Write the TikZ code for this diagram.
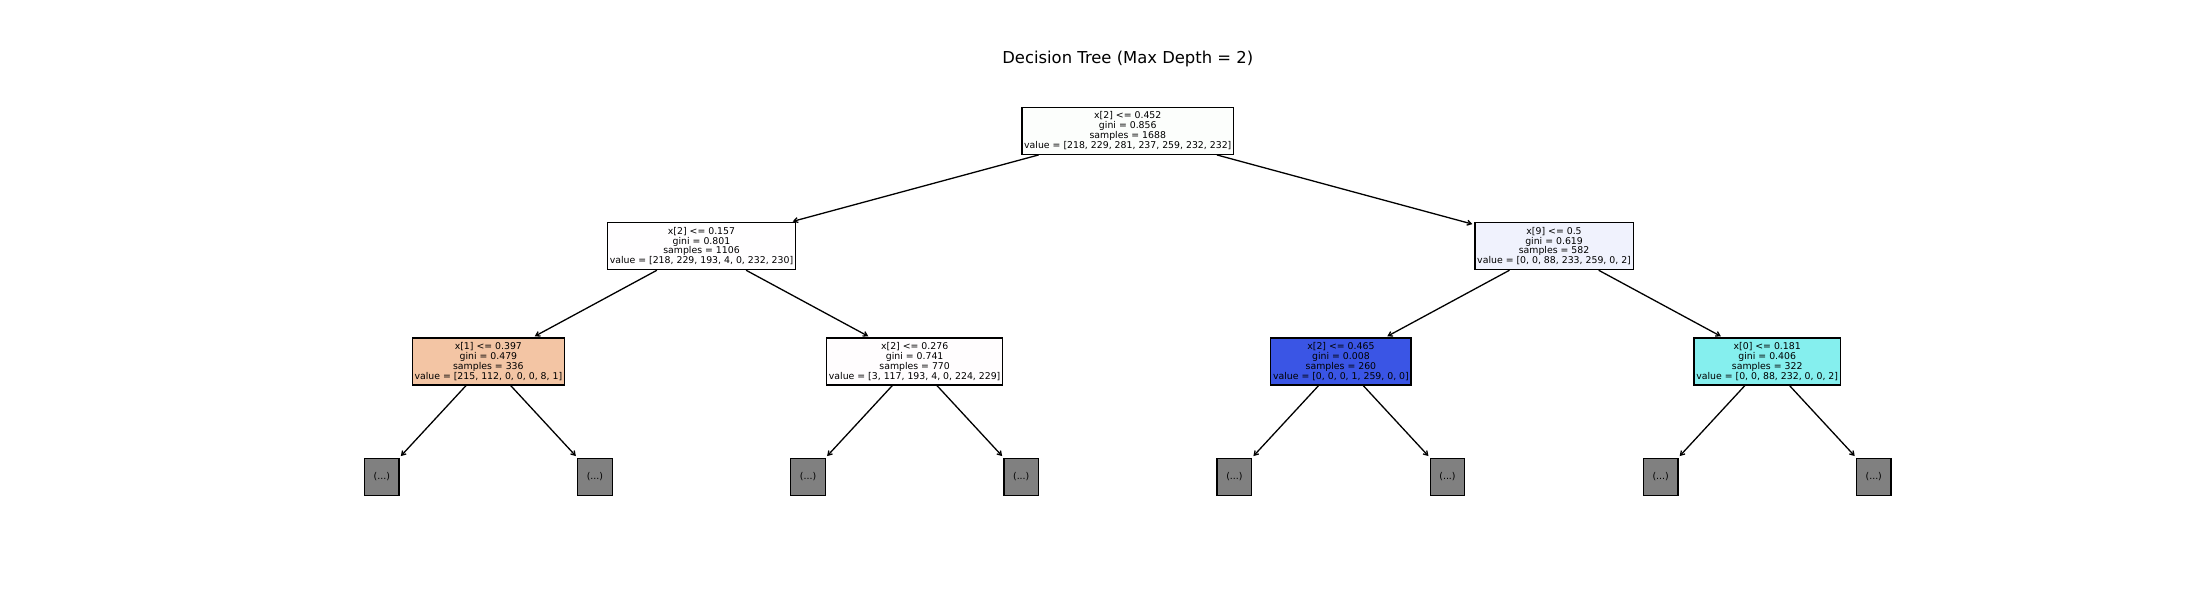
\documentclass[tikz,border=0pt]{standalone}
\usepackage{fontspec}
\setmainfont{DejaVu Sans}
\usetikzlibrary{arrows.meta}
\definecolor{rootfill}{RGB}{252,254,252}
\definecolor{lfill}{RGB}{255,254,255}
\definecolor{rfill}{RGB}{240,242,253}
\definecolor{llfill}{RGB}{243,197,164}
\definecolor{lrfill}{RGB}{255,253,254}
\definecolor{rlfill}{RGB}{58,85,229}
\definecolor{rrfill}{RGB}{133,239,238}
\definecolor{leafgray}{RGB}{128,128,128}
\begin{document}
\begin{tikzpicture}[x=213.14pt,y=115.3pt,
every node/.style={%
line width=1.3pt,
draw,
anchor=center,
align=center,
inner xsep=2.3pt,
minimum height=47pt,
font=\fontsize{9.35}{9.87}\selectfont,
},
ttl/.style={draw=none,minimum height=0pt,font=\fontsize{16.4}{19}\selectfont},
lf/.style={fill=leafgray,minimum width=34.5pt,minimum height=37pt,inner sep=0pt},
arw/.style={-{Straight Barb[length=4pt,width=5pt]},line width=1.3pt,shorten >=2pt}
]
\useasboundingbox (-1.7913,-1.0694) rectangle (8.5306,4.1344);
\node[ttl]at(3.5,3.624)(title){Decision Tree (Max Depth = 2)};
\node[fill=rootfill]at(3.5,3)(root){x[2] <= 0.452\\gini = 0.856\\samples = 1688\\value = [218, 229, 281, 237, 259, 232, 232]};
\node[fill=lfill]at(1.5,2)(l){x[2] <= 0.157\\gini = 0.801\\samples = 1106\\value = [218, 229, 193, 4, 0, 232, 230]};
\node[fill=rfill]at(5.5,2)(r){x[9] <= 0.5\\gini = 0.619\\samples = 582\\value = [0, 0, 88, 233, 259, 0, 2]};
\node[fill=llfill]at(0.5,1)(ll){x[1] <= 0.397\\gini = 0.479\\samples = 336\\value = [215, 112, 0, 0, 0, 8, 1]};
\node[fill=lrfill]at(2.5,1)(lr){x[2] <= 0.276\\gini = 0.741\\samples = 770\\value = [3, 117, 193, 4, 0, 224, 229]};
\node[fill=rlfill]at(4.5,1)(rl){x[2] <= 0.465\\gini = 0.008\\samples = 260\\value = [0, 0, 0, 1, 259, 0, 0]};
\node[fill=rrfill]at(6.5,1)(rr){x[0] <= 0.181\\gini = 0.406\\samples = 322\\value = [0, 0, 88, 232, 0, 0, 2]};
\node[lf]at(0,0)(t1){(...)};
\node[lf]at(1,0)(t2){(...)};
\node[lf]at(2,0)(t3){(...)};
\node[lf]at(3,0)(t4){(...)};
\node[lf]at(4,0)(t5){(...)};
\node[lf]at(5,0)(t6){(...)};
\node[lf]at(6,0)(t7){(...)};
\node[lf]at(7,0)(t8){(...)};
\draw[arw](root)--(l);
\draw[arw](root)--(r);
\draw[arw](l)--(ll);
\draw[arw](l)--(lr);
\draw[arw](r)--(rl);
\draw[arw](r)--(rr);
\draw[arw](ll)--(t1);
\draw[arw](ll)--(t2);
\draw[arw](lr)--(t3);
\draw[arw](lr)--(t4);
\draw[arw](rl)--(t5);
\draw[arw](rl)--(t6);
\draw[arw](rr)--(t7);
\draw[arw](rr)--(t8);
\end{tikzpicture}
\end{document}
